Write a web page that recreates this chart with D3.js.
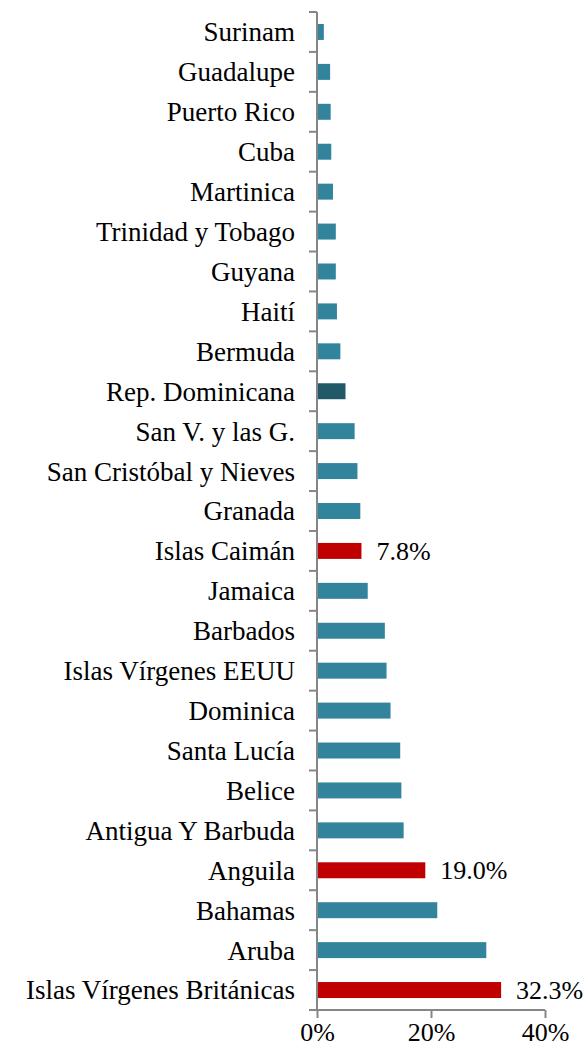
<!DOCTYPE html>
<html>
<head>
  <meta charset="utf-8">
  <title>D3.js Chart</title>
  <script src="https://d3js.org/d3.v7.min.js"></script>
  <style>
    body { margin: 0; background: #fff; }
    svg { display: block; }
    text { font-family: "Liberation Serif", "Times New Roman", serif; fill: #000; }
  </style>
</head>
<body>
  <div id="chart"></div>
  <script>
    // categories from top to bottom
    var countries = ["Surinam", "Guadalupe", "Puerto Rico", "Cuba", "Martinica",
      "Trinidad y Tobago", "Guyana", "Haití", "Bermuda", "Rep. Dominicana",
      "San V. y las G.", "San Cristóbal y Nieves", "Granada", "Islas Caimán",
      "Jamaica", "Barbados", "Islas Vírgenes EEUU", "Dominica", "Santa Lucía",
      "Belice", "Antigua Y Barbuda", "Anguila", "Bahamas", "Aruba",
      "Islas Vírgenes Británicas"];
    var values = [1.2, 2.3, 2.4, 2.5, 2.8, 3.3, 3.3, 3.5, 4.1, 5.0,
      6.6, 7.1, 7.6, 7.8, 8.9, 11.9, 12.2, 12.9, 14.6, 14.8,
      15.2, 19.0, 21.1, 29.7, 32.3];
    var highlighted = ["Islas Caimán", "Anguila", "Islas Vírgenes Británicas"];
    var dominicana = "Rep. Dominicana";
    var xTicks = [0, 20, 40];

    var data = countries.map(function (c, i) { return { name: c, value: values[i] }; });

    var width = 584, height = 1051;
    var margin = { top: 12, right: 39, bottom: 41, left: 317 };

    var svg = d3.select("#chart").append("svg")
      .attr("width", width)
      .attr("height", height);

    var x = d3.scaleLinear()
      .domain([0, 40])
      .range([margin.left, width - margin.right]);

    var y = d3.scaleBand()
      .domain(countries)
      .range([margin.top, height - margin.bottom])
      .paddingInner(0.6)
      .paddingOuter(0.3);

    // bars
    svg.append("g")
      .selectAll("rect")
      .data(data)
      .enter()
      .append("rect")
      .attr("x", x(0))
      .attr("y", function (d) { return y(d.name); })
      .attr("width", function (d) { return x(d.value) - x(0); })
      .attr("height", y.bandwidth())
      .attr("fill", function (d) {
        if (highlighted.indexOf(d.name) >= 0) return "#C00000";
        if (d.name === dominicana) return "#215968";
        return "#31849B";
      });

    // value labels for highlighted bars
    svg.append("g")
      .selectAll("text")
      .data(data.filter(function (d) { return highlighted.indexOf(d.name) >= 0; }))
      .enter()
      .append("text")
      .attr("x", function (d) { return x(d.value) + 15; })
      .attr("y", function (d) { return y(d.name) + y.bandwidth() / 2; })
      .attr("dy", "0.35em")
      .attr("font-size", "26px")
      .text(function (d) { return d.value.toFixed(1) + "%"; });

    // y axis: line with ticks at category boundaries
    var step = y.step();
    var yAxis = svg.append("g").attr("stroke", "#868686").attr("stroke-width", 2);
    yAxis.append("line")
      .attr("x1", x(0)).attr("x2", x(0))
      .attr("y1", margin.top).attr("y2", height - margin.bottom);
    yAxis.selectAll(".ytick")
      .data(d3.range(countries.length + 1))
      .enter()
      .append("line")
      .attr("class", "ytick")
      .attr("x1", x(0) - 8).attr("x2", x(0))
      .attr("y1", function (i) { return margin.top + i * step; })
      .attr("y2", function (i) { return margin.top + i * step; });

    // category labels
    svg.append("g")
      .selectAll("text")
      .data(countries)
      .enter()
      .append("text")
      .attr("x", x(0) - 22)
      .attr("y", function (d) { return y(d) + y.bandwidth() / 2; })
      .attr("dy", "0.35em")
      .attr("text-anchor", "end")
      .attr("font-size", "27px")
      .text(function (d) { return d; });

    // x axis
    var xAxis = svg.append("g")
      .attr("transform", "translate(0," + (height - margin.bottom) + ")")
      .call(d3.axisBottom(x).tickValues(xTicks).tickSize(8).tickPadding(5)
        .tickFormat(function (d) { return d + "%"; }));
    xAxis.select(".domain").attr("stroke", "#868686").attr("stroke-width", 2)
      .attr("d", "M" + x(0) + ",0H" + x(40));
    xAxis.selectAll(".tick line").attr("stroke", "#868686").attr("stroke-width", 2);
    xAxis.selectAll(".tick text")
      .attr("font-family", "Liberation Serif, Times New Roman, serif")
      .attr("font-size", "26px")
      .attr("fill", "#000");
  </script>
</body>
</html>
